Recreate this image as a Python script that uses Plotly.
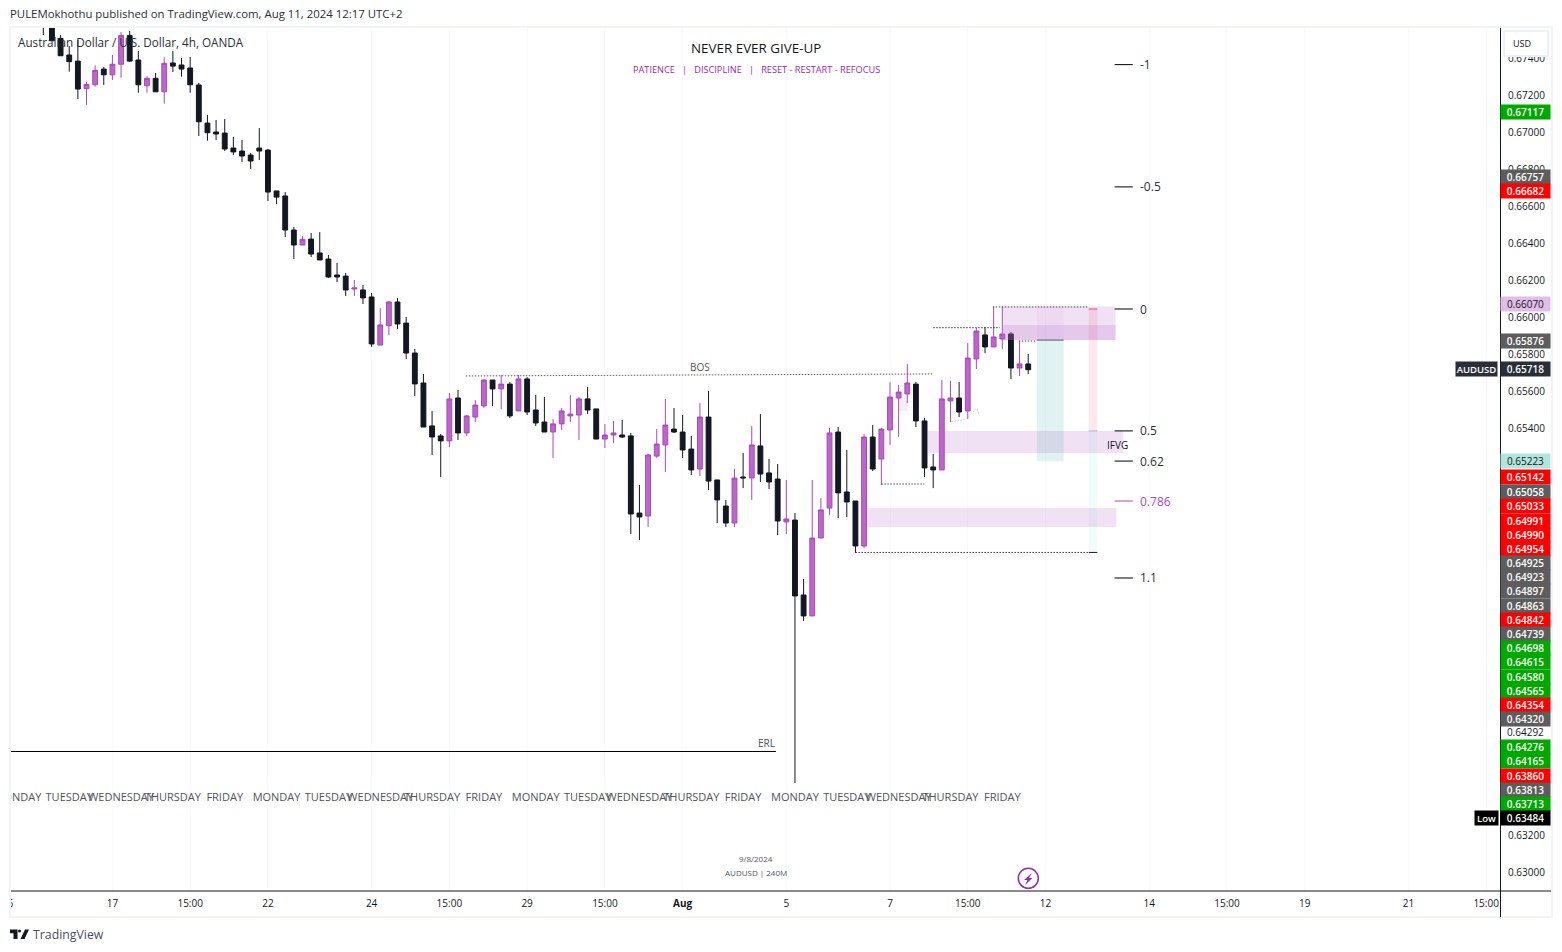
import plotly.graph_objects as go

# ---------- data: prices in 1e-5 USD ----------
DIRECTION = ("BBBBBPPBPP" "BBPBPBBBBB" "BBBBBBBBBB" "PBBBBBPBBP" "PBBBBBBPBP"
             "PPBPBPBBBP" "PPPBBPPBBB" "PPPBBBPBBB" "PBPBBBPBBP" "PPBBBPBPPP"
             "PBBBPPBPPB" "PPBPB")
HIGH = [67716,67662,67527,67467,67500,67273,67363,67354,67419,67543,
        67549,67440,67305,67322,67406,67440,67403,67408,67268,67095,
        67068,67073,66976,66959,66889,67024,66911,66684,66678,66489,
        66441,66457,66462,66338,66295,66241,66203,66176,66133,66051,
        66089,66105,66003,65830,65695,65495,65370,65592,65608,65473,
        65554,65668,65662,65689,65651,65689,65678,65581,65570,65451,
        65511,65581,65570,65624,65506,65424,65441,65446,65376,65095,
        65262,65397,65560,65511,65473,65360,65538,65603,65122,65014,
        65181,65268,65414,65478,65235,65208,65122,64943,64587,65122,
        65024,65403,65408,65284,65008,65370,65419,65403,65651,65635,
        65749,65651,65457,65262,65662,65657,65651,65862,65943,65949,
        66060,66060,65922,65873,65803]
BODY_TOP = [67689,67635,67509,67419,67386,67260,67336,67343,67369,67525,
        67525,67392,67293,67293,67374,67376,67365,67349,67257,67051,
        67003,66997,66916,66900,66878,66916,66905,66684,66657,66473,
        66423,66424,66349,66316,66230,66224,66160,66149,66111,65960,
        66084,66084,65970,65808,65646,65414,65360,65560,65565,65468,
        65527,65662,65662,65640,65640,65668,65668,65500,65435,65425,
        65495,65478,65560,65560,65506,65365,65376,65365,65360,64943,
        65257,65316,65419,65397,65381,65289,65462,65462,65122,64981,
        65132,65138,65311,65306,65160,65127,64911,64905,64500,64808,
        64960,65376,65381,65057,65008,65354,65354,65397,65570,65597,
        65646,65640,65441,65192,65560,65565,65565,65781,65927,65906,
        65895,65911,65911,65749,65749]
BODY_BOTTOM = [67608,67496,67415,67383,67235,67237,67258,67312,67312,67369,
        67386,67258,67253,67220,67220,67359,67343,67258,67058,66999,
        66992,66911,66895,66873,66846,66900,66678,66651,66473,66392,
        66392,66343,66311,66219,66219,66149,66154,66106,65857,65851,
        65956,65965,65808,65641,65408,65354,65333,65333,65376,65376,
        65462,65522,65614,65614,65468,65495,65489,65430,65381,65381,
        65425,65468,65473,65500,65343,65343,65365,65354,64938,64922,
        64927,65251,65311,65381,65284,65176,65181,65116,65014,64889,
        64889,65133,65133,65154,65111,64900,64895,64495,64387,64387,
        64808,64970,65052,65003,64765,64765,65181,65235,65392,65565,
        65587,65441,65187,65176,65176,65549,65489,65495,65776,65841,
        65841,65884,65727,65727,65718]
LOW = [67527,67495,67415,67329,67181,67150,67248,67258,67284,67296,
        67381,67215,67215,67220,67156,67327,67302,67215,66981,66956,
        66960,66900,66878,66841,66803,66851,66630,66614,66435,66316,
        66392,66327,66311,66214,66192,66116,66116,66073,65841,65851,
        65905,65938,65776,65576,65408,65257,65138,65300,65338,65360,
        65435,65511,65522,65505,65457,65495,65473,65414,65381,65241,
        65392,65435,65338,65478,65343,65295,65322,65349,64830,64797,
        64868,65241,65165,65376,65241,65149,65143,65068,64889,64868,
        64868,65078,65014,65111,65073,64824,64830,63484,64360,64387,
        64808,64933,64916,64922,64727,64754,65170,65095,65311,65354,
        65538,65408,65138,65078,65176,65435,65462,65451,65722,65808,
        65841,65830,65668,65684,65695]

X_TICK_BARS = [-3.8, 8, 17, 26, 38, 47, 56, 65, 74, 86, 98, 107, 116, 128, 137, 146, 158, 167]
X_TICK_TEXT = ["6", "17", "15:00", "22", "24", "15:00", "29", "15:00", "<b>Aug</b>", "5", "7", "15:00",
               "12", "14", "15:00", "19", "21", "15:00"]
Y_TICKS = [0.674, 0.672, 0.670, 0.668, 0.666, 0.664, 0.662, 0.660, 0.658, 0.656, 0.654, 0.632, 0.630]

WEEKDAY_BARS = [-3, 3, 9, 15, 21, 27, 33, 39, 45, 51, 57, 63, 69, 75, 81, 87, 93, 99, 105, 111]
WEEKDAY_TEXT = ["MONDAY", "TUESDAY", "WEDNESDAY", "THURSDAY", "FRIDAY"] * 4

FIB_TEXT = ["-1", "-0.5", "0", "0.5", "0.62", "0.786", "1.1"]
FIB_PRICE = [0.67367, 0.66706, 0.66046, 0.65387, 0.65224, 0.65008, 0.64592]

# price scale rows: text, fill, text colour, row centre on the page
AXIS_LABELS = ["0.67117", "0.66757", "0.66682", "0.66070", "0.65876", "0.65718", "0.65223", "0.65142",
               "0.65058", "0.65033", "0.64991", "0.64990", "0.64954", "0.64925", "0.64923", "0.64897",
               "0.64863", "0.64842", "0.64739", "0.64698", "0.64615", "0.64580", "0.64565", "0.64354",
               "0.64320", "0.64292", "0.64276", "0.64165", "0.63860", "0.63813", "0.63713", "0.63484"]
AXIS_KIND = ["g","k","r","l","k","n","t","r","k","r","r","r","r","k","k","k","k","r","k","g","g","g","g",
             "r","k","w","g","g","r","k","g","z"]
AXIS_ROW_Y = [112,177,191,304.5,340.5,369.5,461,477,492,506.5,521,535,549,562.5,577,591,605.5,619.5,633.5,
              647.5,661.5,676.5,690.5,704.5,718.5,732,746.5,761,775.5,789.5,803.5,817.5]
KIND_FILL = {"g": "#00a800", "k": "#5d5d5d", "r": "#ff0000", "l": "#e1bee7", "n": "#2a2e39",
             "t": "#b2e5dc", "w": "rgba(255,255,255,0)", "z": "#000000"}
KIND_TEXT = {"g": "#ffffff", "k": "#ffffff", "r": "#ffffff", "l": "#131722", "n": "#ffffff",
             "t": "#131722", "w": "#131722", "z": "#ffffff"}

# ---------- style ----------
FONT = "Open Sans"
INK = "#131722"
PURPLE = "#ab47bc"
PURPLE_FILL = "#ba68c8"
ZONE = "rgba(186,104,200,0.2)"
FINE_DOT = "1.5px,1.5px"
W, H = 1562, 952
L, R, T, B = 10, 1501, 28, 891


def px(x):
    return (x - L) / (R - L)


def py(y):
    return (B - y) / (B - T)


opens = [(t if d == "B" else b) * 1e-5 for d, t, b in zip(DIRECTION, BODY_TOP, BODY_BOTTOM)]
closes = [(b if d == "B" else t) * 1e-5 for d, t, b in zip(DIRECTION, BODY_TOP, BODY_BOTTOM)]
bars = list(range(len(HIGH)))

fig = go.Figure()
fig.add_trace(go.Scatter(x=WEEKDAY_BARS, y=[0.63402] * len(WEEKDAY_BARS), text=WEEKDAY_TEXT, mode="text",
                         textposition="middle center", textfont=dict(family=FONT, size=11, color="#50535e"),
                         hoverinfo="skip", showlegend=False))
fig.add_trace(go.Candlestick(x=bars, open=opens, close=closes,
                             high=[v * 1e-5 for v in HIGH], low=[v * 1e-5 for v in LOW],
                             increasing=dict(line=dict(color=PURPLE, width=1), fillcolor=PURPLE_FILL),
                             decreasing=dict(line=dict(color=INK, width=1), fillcolor=INK),
                             whiskerwidth=0, showlegend=False))
# light dotted curve by the 7 Aug swing
fig.add_trace(go.Scatter(x=[105.1, 106.9, 108.0, 108.3], y=[0.65437, 0.65457, 0.65506, 0.65473], mode="lines",
                         line=dict(color="#c4c4c8", width=1, dash=FINE_DOT, shape="spline"),
                         hoverinfo="skip", showlegend=False))

shapes = []


def rect(x0, x1, y0, y1, fill):
    shapes.append(dict(type="rect", xref="x", yref="y", x0=x0, x1=x1, y0=y0, y1=y1,
                       fillcolor=fill, line=dict(width=0), layer="above"))


def seg(x0, x1, y0, y1, color=INK, dash="solid", width=1):
    shapes.append(dict(type="line", xref="x", yref="y", x0=x0, x1=x1, y0=y0, y1=y1,
                       line=dict(color=color, width=width, dash=dash), layer="above"))


def chrome_rect(x0, x1, y0, y1, fill, line=None, lw=0):
    shapes.append(dict(type="rect", xref="paper", yref="paper", x0=px(x0), x1=px(x1), y0=py(y0), y1=py(y1),
                       fillcolor=fill, line=dict(color=line, width=lw) if line else dict(width=0), layer="above"))


# zones
rect(111, 124.1, 0.66060, 0.65878, ZONE)
rect(111, 124.1, 0.65960, 0.65878, ZONE)
rect(102.4, 125.0, 0.65387, 0.65268, ZONE)
rect(95.4, 124.2, 0.64970, 0.64868, ZONE)
rect(99, 100, 0.65565, 0.65495, "rgba(186,104,200,0.12)")
# position tool
rect(115, 118.1, 0.66073, 0.65878, "rgba(186,104,200,0.05)")
rect(115, 118.1, 0.65878, 0.65223, "rgba(38,166,154,0.14)")
rect(121, 122, 0.66046, 0.65387, "rgba(233,30,99,0.10)")
rect(121, 122, 0.65387, 0.64730, "rgba(128,222,234,0.12)")
seg(121, 122, 0.66046, 0.66046, "#ec407a")
seg(121, 122, 0.65387, 0.65387, "#90bfe0")
seg(121, 122, 0.64730, 0.64730, INK)
# dotted structure lines
DOT = "#5a5d68"
seg(48.9, 103, 0.65684, 0.65695, DOT, FINE_DOT)
seg(103, 110.7, 0.65945, 0.65945, "#33363f", FINE_DOT)
seg(109.9, 120.9, 0.66057, 0.66057, "#4a4d57", FINE_DOT)
seg(112.9, 115, 0.65873, 0.65873, "#4a4d57", FINE_DOT)
seg(115, 118.1, 0.65878, 0.65878, "#555862")
seg(97, 102, 0.65100, 0.65100, "#4a4d57", FINE_DOT)
seg(94, 122, 0.64730, 0.64730, "#33363f", FINE_DOT)
# ERL
seg(-3.86, 84.8, 0.63654, 0.63654, "#000000")
# fib levels
for label, price in zip(FIB_TEXT, FIB_PRICE):
    seg(124, 126.1, price, price, PURPLE if label == "0.786" else "#000000")

# page chrome
chrome_rect(0, 10, 28, 917, "#ffffff")
FRAME = "#f0f3fa"
for x0, x1, y0, y1 in [(9, 11, 26, 918), (1551, 1553, 26, 918), (9, 1553, 26, 28), (9, 1553, 916, 918)]:
    chrome_rect(x0, x1, y0, y1, FRAME)
shapes.append(dict(type="line", xref="paper", yref="paper", x0=px(11), x1=px(1551), y0=py(891), y1=py(891),
                   line=dict(color=INK, width=1), layer="above"))
shapes.append(dict(type="line", xref="paper", yref="paper", x0=px(1500.5), x1=px(1500.5), y0=py(28), y1=py(917),
                   line=dict(color=INK, width=1), layer="above"))
# currency box, hides the top of the first price tick
chrome_rect(1502, 1550, 29, 57, "#ffffff")
shapes.append(dict(type="rect", xref="paper", yref="paper", x0=px(1504), x1=px(1548), y0=py(31), y1=py(56),
                   fillcolor="#ffffff", line=dict(color="#e8ebf3", width=1.5), layer="above"))


def poly(points, fill=None, line=None, lw=1):
    path = "M " + " L ".join(f"{px(a):.6f},{py(b):.6f}" for a, b in points) + " Z"
    shapes.append(dict(type="path", xref="paper", yref="paper", path=path, fillcolor=fill or "rgba(0,0,0,0)",
                       line=dict(color=line, width=lw) if line else dict(width=0), layer="above"))


# lightning badge
shapes.append(dict(type="circle", xref="paper", yref="paper", x0=px(1018.3), x1=px(1038.3), y0=py(868.3), y1=py(888.3),
                   line=dict(color="#9c27b0", width=1.5), fillcolor="#ffffff", layer="above"))
poly([(1032, 873), (1024, 880), (1027.5, 880), (1025, 885), (1032.5, 878), (1029, 878)], fill="#9c27b0")
# TradingView logo
poly([(10, 929.5), (17.5, 929.5), (17.5, 939), (13.5, 939), (13.5, 933.2), (10, 933.2)], fill=INK)
shapes.append(dict(type="circle", xref="paper", yref="paper", x0=px(18), x1=px(21), y0=py(929.5), y1=py(932.5),
                   fillcolor=INK, line=dict(width=0), layer="above"))
poly([(25, 929.5), (29, 929.5), (24.5, 939), (20.5, 939)], fill=INK)

annotations = []


def note(text, x, y, size=10, color=INK, anchor="center", ref="x", weight=None, **kw):
    annotations.append(dict(text=text, x=x, y=y, xref=ref, yref="y" if ref == "x" else "paper", showarrow=False,
                            xanchor=anchor, yanchor="middle",
                            font=dict(family=FONT, size=size, color=color, weight=weight or 400), **kw))


note("BOS", 76, 0.65733, 10, "#50535e")
note("ERL", 83.7, 0.63700, 10, "#50535e")
note("IFVG", 124.3, 0.65309, 10, INK)
for label, price in zip(FIB_TEXT, FIB_PRICE):
    note(label, 126.67, price, 12, PURPLE if label == "0.786" else "#2a2e39", "left")
note("NEVER EVER GIVE-UP", 82.5, 0.67457, 13.4, INK)
note("PATIENCE &nbsp; | &nbsp; DISCIPLINE &nbsp; | &nbsp; RESET - RESTART - REFOCUS", 82.5, 0.67338, 9.2, "#9c27b0")
note("9/8/2024", 82.5, 0.63078, 8, "#50535e")
note("AUDUSD | 240M", 82.5, 0.62998, 8, "#50535e")

note("PULEMokhothu published on TradingView.com, Aug 11, 2024 12:17 UTC+2", px(8), py(14), 11.4, "#2a2e39", "left", "paper")
note("Australian Dollar / U.S. Dollar, 4h, OANDA", px(16), py(42), 11.7, "#2a2e39", "left", "paper")
note("TradingView", px(31), py(934), 12.3, "#4a4f5c", "left", "paper")
note("USD", px(1522), py(44), 9, INK, "center", "paper")

for text, kind, row in zip(AXIS_LABELS, AXIS_KIND, AXIS_ROW_Y):
    note(text, px(1525), py(row), 10, KIND_TEXT[kind], "center", "paper",
         weight=600 if KIND_TEXT[kind] == "#ffffff" else 400, bgcolor=KIND_FILL[kind], width=49,
         height=14.3, borderpad=0)
note("AUDUSD", px(1476), py(369.5), 9.5, "#ffffff", "center", "paper", weight=600, bgcolor="#2a2e39", width=41, height=14, borderpad=0)
note("Low", px(1486), py(817.5), 9.5, "#ffffff", "center", "paper", weight=600, bgcolor="#000000", width=23, height=14, borderpad=0)

fig.update_layout(
    width=W, height=H, margin=dict(l=L, r=W - R, t=T, b=H - B, autoexpand=False), autosize=False,
    paper_bgcolor="#ffffff", plot_bgcolor="#ffffff", showlegend=False, dragmode=False, boxgap=0.2,
    shapes=shapes, annotations=annotations,
    xaxis=dict(range=[-3.854, 168.72], rangeslider=dict(visible=False), tickmode="array", tickvals=X_TICK_BARS,
               ticktext=X_TICK_TEXT, tickangle=0, ticks="outside", ticklen=3, tickcolor="rgba(0,0,0,0)",
               tickfont=dict(family=FONT, size=10, color=INK),
               showgrid=True, gridcolor="#f8f9fb", zeroline=False, showline=False),
    yaxis=dict(range=[0.62900, 0.67565], side="right", tickmode="array", tickvals=Y_TICKS,
               ticktext=[f"{v:.5f}" for v in Y_TICKS], ticks="outside", ticklen=4, tickcolor="rgba(0,0,0,0)",
               tickfont=dict(family=FONT, size=10, color=INK), showgrid=False, zeroline=False, showline=False),
)

fig.write_html("out.html", config=dict(displayModeBar=False),
               post_script="document.body.style.margin='0';document.body.style.overflow='hidden';")
